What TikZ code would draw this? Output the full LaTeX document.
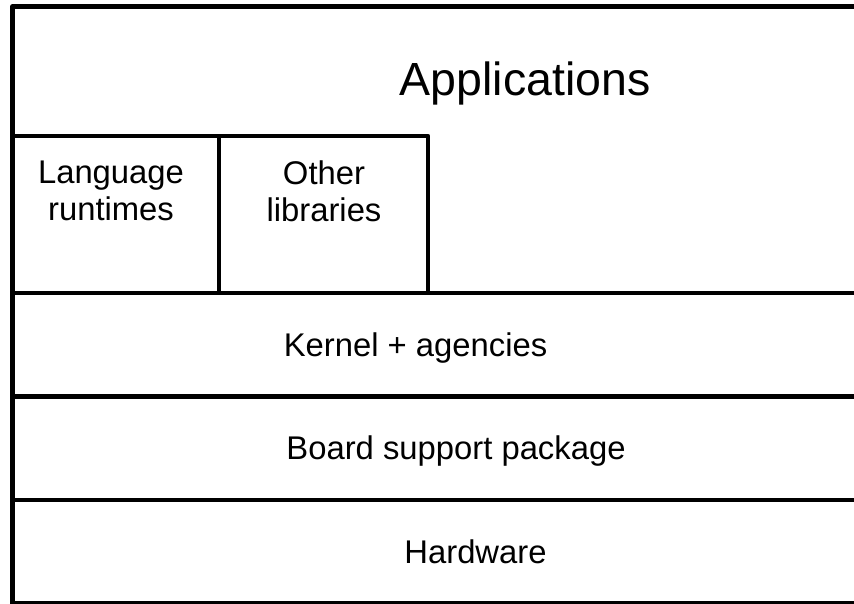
\documentclass[tikz,border=0pt]{standalone}
\usepackage{fontspec}
\setmainfont{Liberation Sans}
\begin{document}
\begin{tikzpicture}[x=1pt,y=-1pt,
  layer/.style={line width=4.6pt,line join=round,line cap=butt},
  lbl/.style={font=\fontsize{32.8}{37}\selectfont,align=center,inner sep=0pt,anchor=center},
  big/.style={font=\fontsize{46.5}{50}\selectfont,inner sep=0pt,anchor=center}]
\useasboundingbox (0,0) rectangle (854,604);
\clip (0,0) rectangle (854,604);
% coordinates
\coordinate (tl) at (12.5,6.5);
\coordinate (tr) at (870,6.5);
\coordinate (bl) at (12.5,603.5);
\coordinate (br) at (870,603.5);
\coordinate (bxl) at (12.5,136);
\coordinate (bxm) at (219,136);
\coordinate (bxr) at (428,136);
\coordinate (bxmb) at (219,293);
\coordinate (bxrb) at (428,293);
\coordinate (k1l) at (12.5,293);
\coordinate (k1r) at (870,293);
\coordinate (k2l) at (12.5,396.5);
\coordinate (k2r) at (870,396.5);
\coordinate (k3l) at (12.5,500);
\coordinate (k3r) at (870,500);
% frame
\draw[layer] (br) -- (bl) -- (tl) -- (tr);
\draw[layer] (bxl) -- (bxr) -- (bxrb);
\draw[layer] (bxm) -- (bxmb);
\draw[layer] (k1l) -- (k1r);
\draw[layer] (k2l) -- (k2r);
\draw[layer] (k3l) -- (k3r);
% labels
\node[big] (apps) at (525,83) {Applications};
\node[lbl] (lang) at (111,191) {Language\\runtimes};
\node[lbl] (other) at (324,191) {Other\\libraries};
\node[lbl] (kern) at (415.5,348) {Kernel + agencies};
\node[lbl] (bsp) at (456,451) {Board support package};
\node[lbl] (hw) at (475.5,552) {Hardware};
\end{tikzpicture}
\end{document}
